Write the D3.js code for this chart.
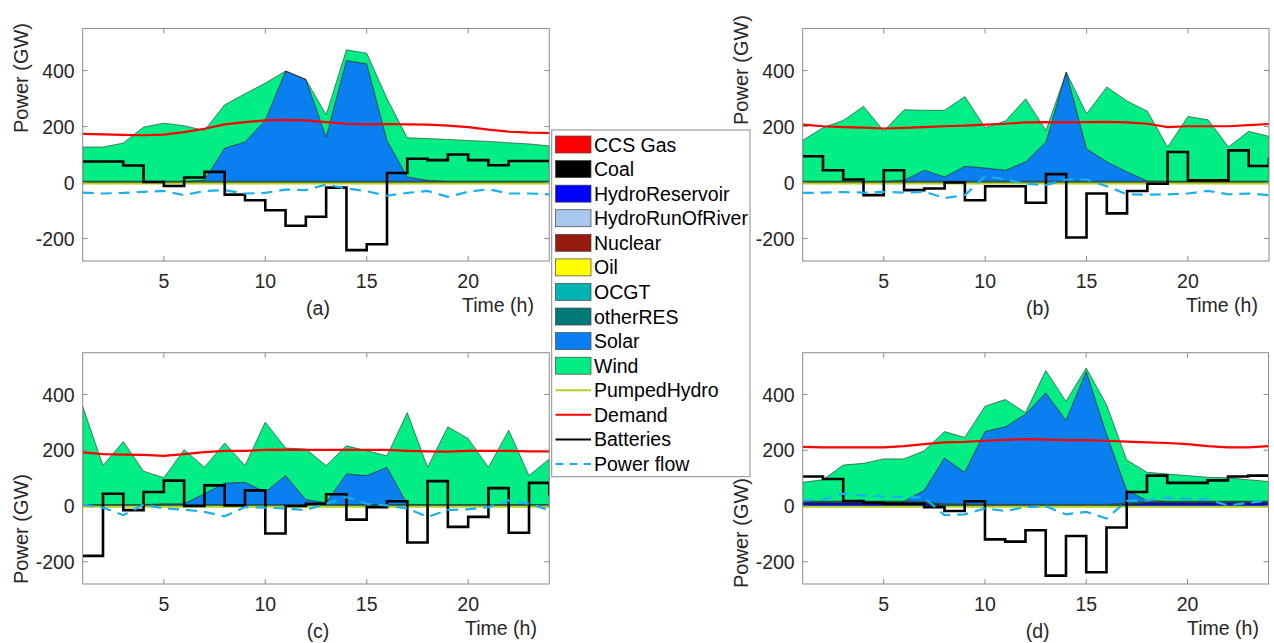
<!DOCTYPE html>
<html>
<head>
<meta charset="utf-8">
<script src="https://cdn.jsdelivr.net/npm/d3@7"></script>
<style>
  body { margin: 0; background: #fff; }
  text { font-family: Arial, "Liberation Sans", sans-serif; fill: #262626; }
</style>
</head>
<body>
<svg id="chart" width="1274" height="643"></svg>
<script>
const hours = [1, 2, 3, 4, 5, 6, 7, 8, 9, 10, 11, 12, 13, 14, 15, 16, 17, 18, 19, 20, 21, 22, 23, 24];
const xTicks = [5, 10, 15, 20];
const yTicks = [-200, 0, 200, 400];

const techs = ['CCS Gas', 'Coal', 'HydroReservoir', 'HydroRunOfRiver', 'Nuclear', 'Oil', 'OCGT', 'otherRES', 'Solar', 'Wind'];
const techColors = ['#ff0000', '#000000', '#0000ff', '#a8c8f0', '#961a0d', '#ffff00', '#00b4b4', '#007a78', '#0a80f0', '#02ee84'];
const lineNames = ['PumpedHydro', 'Demand', 'Batteries', 'Power flow'];
const lineColors = ['#b4d21e', '#ff0000', '#000000', '#1ab0ec'];

// (a)
const otherResA = [5, 5, 5, 5, 5, 5, 5, 5, 5, 5, 5, 5, 5, 5, 5, 5, 5, 5, 5, 5, 5, 5, 5, 5];
const solarA = [0, 0, 0, 0, 0, 0, 3, 118, 140, 217, 393, 363, 158, 431, 419, 145, 15, 3, 0, 0, 0, 0, 0, 0];
const windA = [122, 122, 136, 193, 207, 198, 178, 155, 172, 133, 0, 0, 79, 38, 38, 150, 140, 149, 149, 145, 142, 137, 133, 126];
const pumpedA = [-3, -3, -3, -3, -3, -3, -3, -3, -3, -3, -3, -3, -3, -3, -3, -3, -3, -3, -3, -3, -3, -3, -3, -3];
const demandA = [174, 172, 170, 169, 171, 180, 192, 208, 216, 222, 224, 222, 216, 210, 208, 209, 208, 207, 203, 198, 189, 182, 178, 177];
const batteriesA = [75, 75, 61, 2, -12, 18, 38, -43, -63, -99, -154, -122, -18, -241, -220, 34, 85, 80, 100, 80, 62, 77, 77, 77];
const flowA = [-36, -39, -37, -33, -30, -45, -30, -27, -39, -37, -25, -27, -7, -21, -31, -47, -37, -30, -51, -33, -24, -39, -39, -42];

// (b)
const otherResB = [5, 5, 5, 5, 5, 5, 5, 5, 5, 5, 5, 5, 5, 5, 5, 5, 5, 5, 5, 5, 5, 5, 5, 5];
const solarB = [0, 0, 0, 0, 0, 3, 39, 15, 53, 47, 39, 69, 140, 389, 116, 69, 33, 1, 0, 0, 0, 0, 0, 0];
const windB = [146, 191, 217, 267, 179, 252, 214, 238, 249, 144, 176, 225, 41, 0, 125, 267, 253, 249, 122, 231, 219, 122, 178, 160];
const pumpedB = [-3, -3, -3, -3, -3, -3, -3, -3, -3, -3, -3, -3, -3, -3, -3, -3, -3, -3, -3, -3, -3, -3, -3, -3];
const demandB = [207, 201, 198, 196, 193, 195, 198, 201, 203, 207, 210, 215, 216, 215, 216, 217, 215, 210, 198, 201, 201, 201, 205, 209];
const batteriesB = [94, 44, 11, -45, 44, -27, -21, 0, -63, -13, -13, -72, 30, -196, -39, -110, -30, -4, 109, 8, 8, 115, 59, 89];
const flowB = [-37, -36, -34, -36, -33, -36, -33, -55, -45, 23, 11, -4, -9, 11, 11, -13, -42, -43, -42, -39, -30, -42, -39, -45];

// (c)
const otherResC = [5, 5, 5, 5, 5, 5, 5, 5, 5, 5, 5, 5, 5, 5, 5, 5, 5, 5, 5, 5, 5, 5, 5, 5];
const solarC = [0, 0, 0, 0, 3, 3, 39, 77, 80, 45, 104, 18, 7, 110, 104, 134, 1, 0, 0, 0, 0, 0, 0, 0];
const windC = [353, 140, 226, 120, 93, 194, 95, 144, 60, 251, 99, 181, 133, 101, 89, 41, 329, 134, 279, 237, 134, 267, 104, 164];
const pumpedC = [-3, -3, -3, -3, -3, -3, -3, -3, -3, -3, -3, -3, -3, -3, -3, -3, -3, -3, -3, -3, -3, -3, -3, -3];
const demandC = [192, 186, 184, 183, 180, 186, 193, 198, 198, 201, 202, 201, 201, 201, 201, 201, 198, 196, 195, 198, 198, 198, 196, 196];
const batteriesC = [-179, 44, -15, 50, 91, 0, 74, 2, 56, -99, 0, 8, 42, -49, -4, 17, -131, 89, -75, -39, 64, -96, 83, 38];
const flowC = [5, -6, -33, 5, -9, -13, -21, -37, -4, -6, -9, -15, 8, 32, 8, 2, -9, -39, -15, -12, -4, 20, 8, -15];

// (d)
const hydroResD = [12, 12, 12, 12, 12, 12, 10, 3, 2, 1, 1, 1, 1, 1, 1, 1, 5, 12, 12, 12, 12, 12, 12, 12];
const otherResD = [5, 5, 5, 5, 5, 5, 5, 5, 5, 5, 5, 5, 5, 5, 5, 5, 5, 5, 5, 5, 5, 5, 5, 5];
const solarD = [0, 0, 0, 0, 0, 0, 41, 164, 114, 261, 278, 323, 400, 301, 477, 252, 46, 3, 0, 0, 0, 0, 0, 0];
const windD = [68, 77, 130, 136, 152, 152, 142, 95, 125, 91, 98, 6, 80, 69, 12, 106, 109, 101, 98, 92, 86, 84, 77, 71];
const pumpedD = [-3, -3, -3, -3, -3, -3, -3, -3, -3, -3, -3, -3, -3, -3, -3, -3, -3, -3, -3, -3, -3, -3, -3, -3];
const demandD = [212, 210, 210, 210, 210, 215, 222, 228, 230, 234, 237, 240, 238, 236, 236, 234, 231, 228, 226, 222, 215, 210, 210, 215];
const batteriesD = [106, 97, 18, 11, 8, 8, -4, -18, 17, -120, -128, -87, -250, -108, -238, -77, 50, 109, 83, 83, 92, 106, 109, 109];
const flowD = [20, 23, 44, 38, 34, 32, 30, -33, -30, -9, -18, -4, -1, -30, -21, -45, 18, 20, 30, 26, 23, 2, 11, 20];

const panels = [
  { tag: '(a)', left: 82.7, right: 549.3, top: 28.5, bottom: 261, ylabY: 78, timeX: 498, gen: { otherRES: otherResA, Solar: solarA, Wind: windA }, lines: [pumpedA, demandA, batteriesA, flowA] },
  { tag: '(b)', left: 802.7, right: 1269, top: 28.5, bottom: 261, ylabY: 70, timeX: 1222, gen: { otherRES: otherResB, Solar: solarB, Wind: windB }, lines: [pumpedB, demandB, batteriesB, flowB] },
  { tag: '(c)', left: 82.7, right: 549.3, top: 352.7, bottom: 584, ylabY: 529, timeX: 501, gen: { otherRES: otherResC, Solar: solarC, Wind: windC }, lines: [pumpedC, demandC, batteriesC, flowC] },
  { tag: '(d)', left: 802.7, right: 1268.5, top: 352.7, bottom: 584, ylabY: 533, timeX: 1223, gen: { HydroReservoir: hydroResD, otherRES: otherResD, Solar: solarD, Wind: windD }, lines: [pumpedD, demandD, batteriesD, flowD] }
];

const svg = d3.select('#chart');

function drawPanel(p, idx) {
  const x = d3.scaleLinear().domain([1, 24]).range([p.left, p.right]);
  const y = d3.scaleLinear().domain([-280, 550]).range([p.bottom, p.top]);
  const g = svg.append('g');

  g.append('clipPath').attr('id', 'clip' + idx)
    .append('rect')
    .attr('x', p.left).attr('y', p.top)
    .attr('width', p.right - p.left).attr('height', p.bottom - p.top);

  const rows = hours.map((h, i) => {
    const r = { hour: h };
    techs.forEach(t => { r[t] = p.gen[t] ? p.gen[t][i] : 0; });
    return r;
  });
  const stacked = d3.stack().keys(techs)(rows);

  const plot = g.append('g').attr('clip-path', `url(#clip${idx})`);

  const area = d3.area()
    .x(d => x(d.data.hour))
    .y0(d => y(d[0]))
    .y1(d => y(d[1]));

  plot.selectAll('path.layer')
    .data(stacked)
    .enter()
    .append('path')
    .attr('class', 'layer')
    .attr('d', area)
    .attr('fill', (d, i) => techColors[i])
    .attr('stroke', '#2a2a2a')
    .attr('stroke-width', 0.6);

  const line = d3.line().x((d, i) => x(hours[i])).y(d => y(d));
  const stairs = d3.line().x((d, i) => x(hours[i])).y(d => y(d)).curve(d3.curveStepAfter);

  plot.append('path').attr('d', line(p.lines[0]))
    .attr('fill', 'none').attr('stroke', lineColors[0]).attr('stroke-width', 2);
  plot.append('path').attr('d', line(p.lines[1]))
    .attr('fill', 'none').attr('stroke', lineColors[1]).attr('stroke-width', 2.2);
  plot.append('path').attr('d', stairs(p.lines[2]))
    .attr('fill', 'none').attr('stroke', lineColors[2]).attr('stroke-width', 2.6);
  plot.append('path').attr('d', line(p.lines[3]))
    .attr('fill', 'none').attr('stroke', lineColors[3]).attr('stroke-width', 2.2)
    .attr('stroke-dasharray', '11,7');

  // box and inward ticks, matlab style
  g.append('rect')
    .attr('x', p.left).attr('y', p.top)
    .attr('width', p.right - p.left).attr('height', p.bottom - p.top)
    .attr('fill', 'none').attr('stroke', '#8c8c8c').attr('stroke-width', 1);

  xTicks.forEach(t => {
    g.append('line').attr('x1', x(t)).attr('x2', x(t)).attr('y1', p.bottom).attr('y2', p.bottom - 5)
      .attr('stroke', '#8c8c8c');
    g.append('line').attr('x1', x(t)).attr('x2', x(t)).attr('y1', p.top).attr('y2', p.top + 5)
      .attr('stroke', '#8c8c8c');
    g.append('text').attr('x', x(t)).attr('y', p.bottom + 27)
      .attr('text-anchor', 'middle').attr('font-size', 19.5).text(t);
  });
  yTicks.forEach(t => {
    g.append('line').attr('x1', p.left).attr('x2', p.left + 5).attr('y1', y(t)).attr('y2', y(t))
      .attr('stroke', '#8c8c8c');
    g.append('line').attr('x1', p.right).attr('x2', p.right - 5).attr('y1', y(t)).attr('y2', y(t))
      .attr('stroke', '#8c8c8c');
    g.append('text').attr('x', p.left - 8).attr('y', y(t) + 7)
      .attr('text-anchor', 'end').attr('font-size', 19.5).text(t);
  });

  g.append('text')
    .attr('transform', `translate(${p.left - 55},${p.ylabY}) rotate(-90)`)
    .attr('text-anchor', 'middle').attr('font-size', 20)
    .text('Power (GW)');
  g.append('text').attr('x', p.timeX).attr('y', p.bottom + 51)
    .attr('text-anchor', 'middle').attr('font-size', 19.5).text('Time (h)');
  g.append('text').attr('x', (p.left + p.right) / 2 + 2).attr('y', p.bottom + 54)
    .attr('text-anchor', 'middle').attr('font-size', 19.5).text(p.tag);
}

panels.forEach(drawPanel);

// legend
const legend = svg.append('g');
legend.append('rect')
  .attr('x', 551.7).attr('y', 130).attr('width', 198.3).attr('height', 346.7)
  .attr('fill', '#fff').attr('stroke', '#8c8c8c').attr('stroke-width', 1);

const legendItems = techs.map((t, i) => ({ name: t, color: techColors[i], kind: 'patch' }))
  .concat(lineNames.map((n, i) => ({ name: n, color: lineColors[i], kind: i === 3 ? 'dash' : 'line' })));

const legY = d3.scaleLinear().domain([0, 13]).range([144.5, 464]);

legendItems.forEach((d, i) => {
  const cy = legY(i);
  if (d.kind === 'patch') {
    legend.append('rect').attr('x', 555.5).attr('y', cy - 8.5).attr('width', 35.5).attr('height', 17)
      .attr('fill', d.color).attr('stroke', '#444').attr('stroke-width', 0.7);
  } else {
    legend.append('line').attr('x1', 555.5).attr('x2', 591).attr('y1', cy).attr('y2', cy)
      .attr('stroke', d.color).attr('stroke-width', 2)
      .attr('stroke-dasharray', d.kind === 'dash' ? '8,6' : null);
  }
  legend.append('text').attr('x', 594).attr('y', cy + 7)
    .attr('font-size', 19.5).style('fill', '#000').text(d.name);
});
</script>
</body>
</html>
